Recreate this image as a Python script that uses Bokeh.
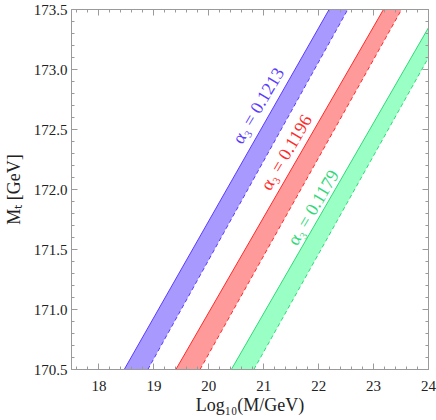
from bokeh.plotting import figure
from bokeh.models import LinearAxis, SingleIntervalTicker, PrintfTickFormatter, Range1d
from bokeh.core.properties import value
from bokeh.embed import file_html
from bokeh.resources import INLINE
import math

# Data
mt = [170.5, 173.5]                 # M_t values [GeV] at bottom/top of bands
blue_solid = [18.46, 22.19]         # Log10(M/GeV), alpha3 = 0.1213 (solid edge)
blue_dashed = [18.89, 22.53]        # dashed edge
red_solid = [19.40, 23.18]          # alpha3 = 0.1196
red_dashed = [19.84, 23.51]
green_solid = [20.41, 24.19]        # alpha3 = 0.1179
green_dashed = [20.82, 24.49]
labels = ["α₃ = 0.1213", "α₃ = 0.1196", "α₃ = 0.1179"]
x_ticks = [18, 19, 20, 21, 22, 23, 24]
y_ticks = [170.5, 171.0, 171.5, 172.0, 172.5, 173.0, 173.5]

SERIF = "Liberation Serif"

p = figure(width=436, height=420, output_backend="svg", toolbar_location=None,
           x_range=Range1d(17.5, 24), y_range=Range1d(170.5, 173.5),
           min_border_left=67, min_border_right=8, min_border_top=9, min_border_bottom=51,
           x_axis_location=None, y_axis_location=None)
p.grid.visible = False
p.outline_line_color = None
p.background_fill_color = "white"

bands = [
    (blue_solid, blue_dashed, "#A899FF", "#5A3CFF"),
    (red_solid, red_dashed, "#FF9A9A", "#FF2A2A"),
    (green_solid, green_dashed, "#9AFFC4", "#2FD978"),
]
for solid, dashed, fill, line in bands:
    xs = list(solid) + list(dashed)[::-1]
    ys = list(mt) + list(mt)[::-1]
    p.patch(xs, ys, fill_color=fill, line_color=None)
    p.line(solid, mt, line_color=line, line_width=1)
    p.line(dashed, mt, line_color=line, line_width=1, line_dash="4 3")

# rotated labels
ang = math.radians(59.5)
lab_pos = [(20.90, 172.70), (21.41, 172.31), (21.90, 171.85)]
lab_col = ["#5A3CFF", "#FF2A2A", "#2FD978"]
for (lx, ly), t, c in zip(lab_pos, labels, lab_col):
    p.text(x=[lx], y=[ly], text=[t], angle=ang, text_color=c,
           text_font=value(SERIF), text_font_size="18px",
           text_align="center", text_baseline="middle")

def style(ax):
    ax.axis_line_color = "#9a9a9a"
    ax.major_tick_line_color = "#9a9a9a"
    ax.minor_tick_line_color = "#9a9a9a"
    ax.major_tick_in = 6
    ax.major_tick_out = 0
    ax.minor_tick_in = 3
    ax.minor_tick_out = 0
    ax.major_label_text_font = SERIF
    ax.major_label_text_font_size = "15px"
    ax.major_label_text_color = "#222222"
    ax.axis_label_text_font = SERIF
    ax.axis_label_text_font_size = "18px"
    ax.axis_label_text_font_style = "normal"
    ax.axis_label_text_color = "#222222"

bottom = LinearAxis(ticker=SingleIntervalTicker(interval=1, num_minor_ticks=5),
                    axis_label="Log₁₀(M/GeV)")
style(bottom)
bottom.major_label_standoff = 11
bottom.axis_label_standoff = 1
left = LinearAxis(ticker=SingleIntervalTicker(interval=0.5, num_minor_ticks=5),
                  formatter=PrintfTickFormatter(format="%.1f"), axis_label="Mₜ [GeV]")
style(left)
left.major_label_standoff = 4
left.axis_label_standoff = 7

top = LinearAxis(ticker=SingleIntervalTicker(interval=1, num_minor_ticks=5))
style(top)
top.major_label_overrides = {v: "" for v in x_ticks}
top.major_label_standoff = 0
right = LinearAxis(ticker=SingleIntervalTicker(interval=0.5, num_minor_ticks=5))
style(right)
right.major_label_overrides = {v: "" for v in y_ticks}
right.major_label_standoff = 0

p.add_layout(bottom, "below")
p.add_layout(left, "left")
p.add_layout(top, "above")
p.add_layout(right, "right")

open("out.html", "w").write(file_html(p, INLINE))
